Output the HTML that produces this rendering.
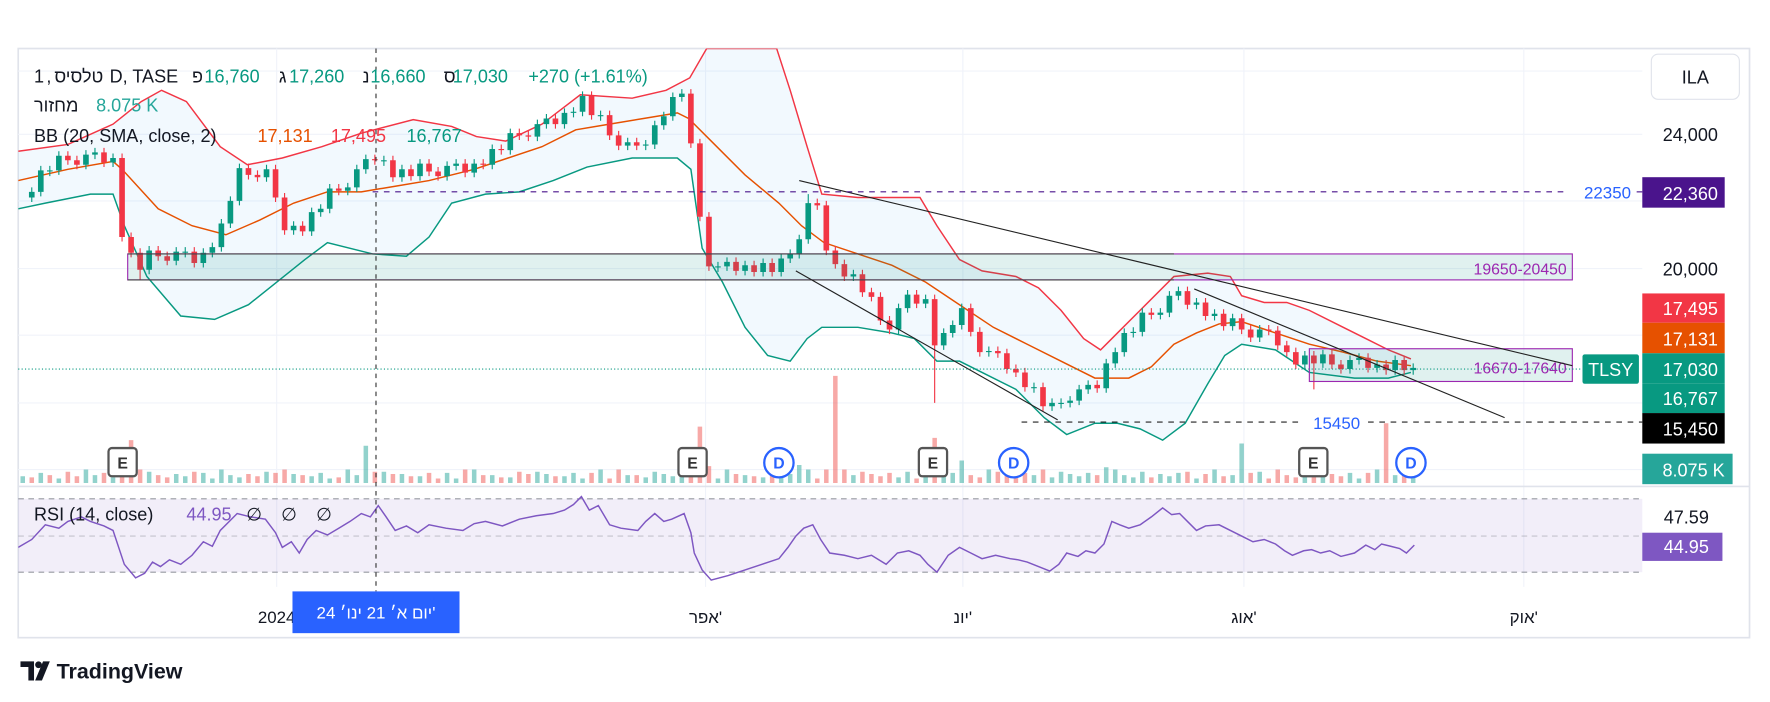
<!DOCTYPE html>
<html><head><meta charset="utf-8">
<style>
html,body{margin:0;padding:0;background:#fff;}
svg{display:block;}
text{font-family:"Liberation Sans","DejaVu Sans",sans-serif;}
</style></head>
<body>
<svg width="1770" height="702" viewBox="0 0 1568 622" xmlns="http://www.w3.org/2000/svg">
<defs>
<clipPath id="cm"><rect x="16" y="43" width="1439" height="388"/></clipPath>
<clipPath id="cr"><rect x="16" y="432" width="1439" height="90"/></clipPath>
</defs>
<rect x="0" y="0" width="1568" height="622" fill="#fff"/>
<rect x="16" y="43" width="1534" height="522" fill="none" stroke="#e0e3eb" stroke-width="1.5"/>
<g stroke="#f0f3fa" stroke-width="1">
<line x1="16" y1="119" x2="1455" y2="119"/><line x1="16" y1="178" x2="1455" y2="178"/>
<line x1="16" y1="238" x2="1455" y2="238"/><line x1="16" y1="297" x2="1455" y2="297"/>
<line x1="16" y1="357" x2="1455" y2="357"/><line x1="16" y1="416" x2="1455" y2="416"/>
<line x1="16" y1="63" x2="1455" y2="63"/>
<line x1="245" y1="43" x2="245" y2="520"/><line x1="625" y1="43" x2="625" y2="520"/>
<line x1="853" y1="43" x2="853" y2="520"/><line x1="1102" y1="43" x2="1102" y2="520"/>
<line x1="1350" y1="43" x2="1350" y2="520"/>
</g>
<line x1="16" y1="431" x2="1550" y2="431" stroke="#e0e3eb" stroke-width="1.5"/>
<rect x="16" y="442" width="1439" height="65" fill="#7e57c2" fill-opacity="0.1"/>
<g stroke="#9598a1" stroke-dasharray="5,4" stroke-width="1">
<line x1="16" y1="442" x2="1455" y2="442"/><line x1="16" y1="475" x2="1455" y2="475" stroke-opacity="0.5"/><line x1="16" y1="507" x2="1455" y2="507"/>
</g>

<g clip-path="url(#cm)">
<polygon fill="#2196f3" fill-opacity="0.06" points="16,134 60,128 100,110 125,90 143,80 165,90 195,130 219,146 250,140 285,130 320,118 366,106 400,112 422,121 448,125 480,110 514,84 560,87 590,80 611,69 626,43 688,43 700,80 715,130 728,172 760,175 790,175 815,175 830,200 850,230 870,240 900,245 920,255 940,275 960,300 975,310 990,295 1010,275 1040,245 1070,242 1090,245 1100,262 1120,268 1140,268 1160,275 1190,290 1210,300 1230,310 1250,318 1250,330 1230,335 1200,335 1160,330 1130,310 1100,305 1085,315 1070,340 1050,375 1030,390 1010,380 990,375 970,375 945,385 925,370 900,345 870,330 850,320 830,320 810,300 790,295 760,290 728,290 715,300 700,320 680,315 660,290 640,250 622,220 612,150 600,140 560,140 520,148 490,160 460,170 430,172 400,180 380,210 360,227 330,225 290,215 270,230 245,250 220,270 190,283 160,280 130,245 110,200 100,172 80,172 40,180 16,185"/>
<path fill="none" stroke="#26a69a" stroke-opacity="0.5" stroke-width="4" d="M20 428v-6M36 428v-9M52 428v-4M76 428v-12M84 428v-7M100 428v-5M132 428v-10M156 428v-8M164 428v-6M180 428v-9M188 428v-4M196 428v-12M204 428v-7M212 428v-5M236 428v-10M260 428v-8M276 428v-6M284 428v-9M292 428v-4M308 428v-12M316 428v-7M324 428v-33M340 428v-10M356 428v-8M372 428v-6M396 428v-9M404 428v-4M420 428v-12M436 428v-7M452 428v-5M476 428v-10M484 428v-8M500 428v-6M508 428v-9M516 428v-4M532 428v-12M556 428v-7M572 428v-5M580 428v-10M588 428v-8M596 428v-6M604 428v-9M636 428v-4M644 428v-12M660 428v-7M676 428v-5M692 428v-10M700 428v-8M708 428v-16M716 428v-12M756 428v-7M796 428v-5M804 428v-10M820 428v-8M836 428v-6M844 428v-9M852 428v-20M876 428v-12M916 428v-7M932 428v-5M940 428v-10M948 428v-8M956 428v-6M964 428v-9M980 428v-14M988 428v-12M996 428v-7M1004 428v-5M1012 428v-10M1028 428v-8M1036 428v-6M1044 428v-9M1060 428v-4M1076 428v-12M1092 428v-7M1100 428v-35M1116 428v-10M1156 428v-8M1172 428v-6M1196 428v-9M1204 428v-4M1220 428v-12M1236 428v-7M1252 428v-10"/>
<path fill="none" stroke="#ef5350" stroke-opacity="0.5" stroke-width="4" d="M28 428v-5M44 428v-7M60 428v-10M68 428v-6M92 428v-9M108 428v-16M116 428v-38M124 428v-12M140 428v-7M148 428v-5M172 428v-10M220 428v-8M228 428v-6M244 428v-9M252 428v-12M268 428v-7M300 428v-5M332 428v-10M348 428v-8M364 428v-6M380 428v-9M388 428v-4M412 428v-12M428 428v-7M444 428v-5M460 428v-10M468 428v-8M492 428v-6M524 428v-9M540 428v-4M548 428v-12M564 428v-7M612 428v-20M620 428v-50M628 428v-15M652 428v-8M668 428v-6M684 428v-9M724 428v-4M732 428v-12M740 428v-95M748 428v-12M764 428v-10M772 428v-8M780 428v-6M788 428v-9M812 428v-4M828 428v-40M860 428v-7M868 428v-5M884 428v-10M892 428v-8M900 428v-6M908 428v-9M924 428v-12M972 428v-7M1020 428v-5M1052 428v-10M1068 428v-8M1084 428v-6M1108 428v-9M1124 428v-4M1132 428v-12M1140 428v-7M1148 428v-5M1164 428v-10M1180 428v-8M1188 428v-6M1212 428v-9M1228 428v-53M1244 428v-10"/>
<polyline fill="none" stroke="#f23645" stroke-width="1.3" points="16,134 60,128 100,110 125,90 143,80 165,90 195,130 219,146 250,140 285,130 320,118 366,106 400,112 422,121 448,125 480,110 514,84 560,87 590,80 611,69 626,43 688,43 700,80 715,130 728,172 760,175 790,175 815,175 830,200 850,230 870,240 900,245 920,255 940,275 960,300 975,310 990,295 1010,275 1040,245 1070,242 1090,245 1100,262 1120,268 1140,268 1160,275 1190,290 1210,300 1230,310 1250,318"/>
<polyline fill="none" stroke="#089981" stroke-width="1.3" points="16,185 40,180 80,172 100,172 110,200 130,245 160,280 190,283 220,270 245,250 270,230 290,215 330,225 360,227 380,210 400,180 430,172 460,170 490,160 520,148 560,140 600,140 612,150 622,220 640,250 660,290 680,315 700,320 715,300 728,290 760,290 790,295 810,300 830,320 850,320 870,330 900,345 925,370 945,385 970,375 990,375 1010,380 1030,390 1050,375 1070,340 1085,315 1100,305 1130,310 1160,330 1200,335 1230,335 1250,330"/>
<polyline fill="none" stroke="#e65100" stroke-width="1.3" points="16,160 60,150 100,143 108,150 140,185 170,200 200,208 230,195 260,180 290,170 320,170 350,165 380,160 420,150 450,140 480,130 510,115 540,110 570,105 600,100 610,105 630,125 660,155 690,180 710,200 730,215 760,225 790,235 820,250 850,270 880,290 910,305 940,320 970,335 1000,335 1020,325 1040,305 1060,295 1080,287 1100,285 1130,295 1160,305 1190,312 1220,320 1250,324"/>
<path fill="none" stroke="#089981" stroke-width="1" d="M28 166V179M36 147V174M44 147V156M52 134V155M76 133V150M84 131V141M100 136V148M132 218V243M156 219V235M164 219V228M180 220V237M188 215V228M196 194V223M204 174V202M212 145V182M236 146V161M260 196V208M276 184V209M284 181V192M292 163V189M308 162V173M316 146V170M324 137V154M340 138V147M356 146V161M372 141V160M396 143V160M404 141V151M420 141V157M436 128V150M452 114V137M476 106V125M484 101V114M500 96V114M508 95V104M516 81V103M532 98V107M556 122V133M572 124V133M580 107V132M588 99V115M596 82V107M604 79V90M636 232V241M644 228V240M660 231V244M676 229V245M692 225V245M700 221V233M708 208V229M716 172V216M756 239V249M796 269V296M804 257V277M820 261V273M836 291V310M844 284V299M852 269V292M876 307V316M916 339V348M932 353V364M940 353V362M948 351V361M956 341V359M964 337V349M980 318V348M988 308V326M996 291V316M1004 290V299M1012 273V298M1028 273V283M1036 258V281M1044 254V266M1060 264V274M1076 274V284M1092 278V293M1116 288V303M1156 311V327M1172 310V326M1196 315V331M1204 313V323M1220 319V330M1236 315V332M1252 322V332"/>
<path fill="none" stroke="#089981" stroke-width="5" d="M28 170V175M36 151V170M44 151V152M52 138V151M76 137V146M84 135V137M100 140V144M132 222V239M156 223V231M164 223V224M180 224V233M188 219V224M196 198V219M204 178V198M212 149V178M236 150V157M260 200V204M276 188V205M284 185V188M292 167V185M308 166V169M316 150V166M324 141V150M340 142V143M356 150V157M372 145V156M396 147V156M404 145V147M420 145V153M436 132V146M452 118V133M476 110V121M484 105V110M500 100V110M508 99V100M516 85V99M532 102V103M556 126V129M572 128V129M580 111V128M588 103V111M596 86V103M604 83V86M636 236V237M644 232V236M660 235V240M676 233V241M692 229V241M700 225V229M708 212V225M716 180V212M756 243V245M796 273V292M804 261V273M820 265V269M836 295V306M844 288V295M852 273V288M876 311V312M916 343V344M932 357V360M940 357V358M948 355V357M956 345V355M964 341V345M980 322V344M988 312V322M996 295V312M1004 294V295M1012 277V294M1028 277V279M1036 262V277M1044 258V262M1060 268V270M1076 278V280M1092 282V289M1116 292V299M1156 315V323M1172 314V322M1196 319V327M1204 317V319M1220 323V326M1236 319V328M1252 326V328"/>
<path fill="none" stroke="#f23645" stroke-width="1" d="M60 134V146M68 138V150M92 131V148M108 136V214M116 206V228M124 220V248M140 218V231M148 223V235M172 219V237M220 145V159M228 151V161M244 146V179M252 171V208M268 196V209M300 163V173M332 137V146M348 138V161M364 146V160M380 141V156M388 148V160M412 141V157M428 141V150M444 128V137M460 114V124M468 116V125M492 101V114M524 81V106M540 98V124M548 116V133M564 122V133M612 79V131M620 123V196M628 188V240M652 228V244M668 231V245M684 229V245M724 176V186M732 178V226M740 218V238M748 230V249M764 239V263M772 255V267M780 259V288M788 280V296M812 257V273M828 261V357M860 269V298M868 290V316M884 307V317M892 309V331M900 323V334M908 326V347M924 339V364M972 337V348M1020 273V283M1052 254V274M1068 264V284M1084 274V293M1100 278V296M1108 288V303M1124 288V297M1132 289V310M1140 302V316M1148 308V327M1164 311V345M1180 310V327M1188 319V331M1212 313V330M1228 319V332M1244 315V332"/>
<path fill="none" stroke="#f23645" stroke-width="5" d="M60 138V142M68 142V146M92 135V144M108 140V210M116 210V224M124 224V239M140 222V227M148 227V231M172 223V233M220 149V155M228 155V157M244 150V175M252 175V204M268 200V205M300 167V169M332 141V142M348 142V157M364 150V156M380 145V152M388 152V156M412 145V153M428 145V146M444 132V133M460 118V120M468 120V121M492 105V110M524 85V102M540 102V120M548 120V129M564 126V129M612 83V127M620 127V192M628 192V236M652 232V240M668 235V241M684 233V241M724 180V182M732 182V222M740 222V234M748 234V245M764 243V259M772 259V263M780 263V284M788 284V292M812 261V269M828 265V306M860 273V294M868 294V312M884 311V313M892 313V327M900 327V330M908 330V343M924 343V360M972 341V344M1020 277V279M1052 258V270M1068 268V280M1084 278V289M1100 282V292M1108 292V299M1124 292V293M1132 293V306M1140 306V312M1148 312V323M1164 315V322M1180 314V323M1188 323V327M1212 317V326M1228 323V328M1244 319V328"/>
</g>
<g clip-path="url(#cr)">
<polyline fill="none" stroke="#7e57c2" stroke-width="1.3" points="16,485 28,478 40,465 52,468 60,462 72,458 80,462 92,466 100,470 110,500 120,512 128,508 135,498 142,502 150,496 160,500 170,492 180,480 188,484 195,470 210,455 222,458 235,460 244,472 250,485 258,480 265,490 272,478 280,470 290,474 300,468 310,462 320,455 328,458 335,448 342,458 350,470 360,466 370,472 380,465 395,468 410,470 420,464 430,462 445,466 460,460 475,457 490,455 500,452 508,447 515,440 522,452 530,448 540,465 550,468 565,470 572,462 580,455 588,462 595,460 606,455 612,472 615,490 622,505 630,514 645,510 660,505 675,500 690,495 698,485 705,475 712,468 720,465 727,478 735,490 748,492 760,495 772,492 785,500 795,490 805,488 815,492 822,500 830,507 840,492 850,485 860,490 870,495 882,492 895,495 902,496 910,498 920,502 930,506 938,500 945,490 955,493 962,488 970,490 978,482 985,462 992,465 1000,468 1010,465 1020,458 1030,450 1038,456 1045,455 1052,462 1060,470 1068,466 1080,465 1090,470 1100,475 1110,480 1120,478 1130,482 1138,488 1145,492 1155,488 1162,487 1170,490 1178,488 1188,493 1200,490 1210,483 1218,487 1224,482 1232,484 1240,486 1246,490 1253,483"/>
</g>

<rect x="113" y="225" width="1280" height="23" fill="#00897b" fill-opacity="0.12" stroke="#9c27b0" stroke-width="1"/>
<line x1="113" y1="225" x2="1040" y2="225" stroke="#444" stroke-width="1"/>
<line x1="113" y1="248" x2="1040" y2="248" stroke="#444" stroke-width="1"/>
<text x="1388" y="243" font-size="14" fill="#9c27b0" text-anchor="end">19650-20450</text>
<rect x="1160" y="309" width="233" height="29" fill="#00897b" fill-opacity="0.12" stroke="#9c27b0" stroke-width="1"/>
<text x="1388" y="331" font-size="14" fill="#9c27b0" text-anchor="end">16670-17640</text>
<line x1="708" y1="160" x2="1393" y2="324" stroke="#222" stroke-width="1"/>
<line x1="1058" y1="256" x2="1333" y2="370" stroke="#222" stroke-width="1"/>
<line x1="705" y1="240" x2="937" y2="372" stroke="#222" stroke-width="1"/>
<line x1="330" y1="170" x2="1387" y2="170" stroke="#4a148c" stroke-dasharray="5,5" stroke-width="1"/>
<line x1="1450" y1="170" x2="1455" y2="170" stroke="#4a148c" stroke-width="1"/>
<text x="1445" y="176" font-size="15" fill="#2962ff" text-anchor="end">22350</text>
<line x1="905" y1="374" x2="1150" y2="374" stroke="#222" stroke-dasharray="5,5" stroke-width="1"/>
<line x1="1212" y1="374" x2="1455" y2="374" stroke="#222" stroke-dasharray="5,5" stroke-width="1"/>
<text x="1205" y="380" font-size="15" fill="#2962ff" text-anchor="end">15450</text>
<line x1="16" y1="327" x2="1400" y2="327" stroke="#089981" stroke-dasharray="1,2" stroke-width="1"/>
<line x1="333" y1="43" x2="333" y2="524" stroke="#333" stroke-dasharray="4,4" stroke-width="1"/>
<g font-size="14" font-weight="bold" text-anchor="middle">
<rect x="96" y="397" width="25" height="25" rx="3" fill="#fff" stroke="#555" stroke-width="2"/><text x="108.5" y="415" fill="#333">E</text>
<rect x="601" y="397" width="25" height="25" rx="3" fill="#fff" stroke="#555" stroke-width="2"/><text x="613.5" y="415" fill="#333">E</text>
<rect x="814" y="397" width="25" height="25" rx="3" fill="#fff" stroke="#555" stroke-width="2"/><text x="826.5" y="415" fill="#333">E</text>
<rect x="1151" y="397" width="25" height="25" rx="3" fill="#fff" stroke="#555" stroke-width="2"/><text x="1163.5" y="415" fill="#333">E</text>
<circle cx="690" cy="410" r="13" fill="#fff" stroke="#2962ff" stroke-width="2"/><text x="690" y="415" fill="#2962ff">D</text>
<circle cx="898" cy="410" r="13" fill="#fff" stroke="#2962ff" stroke-width="2"/><text x="898" y="415" fill="#2962ff">D</text>
<circle cx="1250" cy="410" r="13" fill="#fff" stroke="#2962ff" stroke-width="2"/><text x="1250" y="415" fill="#2962ff">D</text>
</g>
<g font-size="16">
<text x="30" y="73" fill="#131722">1</text>
<text x="41" y="73" fill="#131722">,</text>
<text x="48" y="73" fill="#131722">טלסיס</text>
<text x="97" y="73" fill="#131722">D, TASE</text>
<text x="170" y="73" fill="#131722">פ</text><text x="181" y="73" fill="#089981">16,760</text>
<text x="247" y="73" fill="#131722">ג</text><text x="256" y="73" fill="#089981">17,260</text>
<text x="321" y="73" fill="#131722">נ</text><text x="328" y="73" fill="#089981">16,660</text>
<text x="393" y="73" fill="#131722">ס</text><text x="401" y="73" fill="#089981">17,030</text>
<text x="468" y="73" fill="#089981">+270 (+1.61%)</text>
<text x="30" y="99" fill="#131722">מחזור</text><text x="85" y="99" fill="#26a69a">8.075 K</text>
<text x="30" y="126" fill="#131722">BB (20, SMA, close, 2)</text>
<text x="228" y="126" fill="#e65100">17,131</text>
<text x="293" y="126" fill="#f23645">17,495</text>
<text x="360" y="126" fill="#089981">16,767</text>
<text x="30" y="461" fill="#131722">RSI (14, close)</text>
<text x="165" y="461" fill="#7e57c2">44.95</text>
<text x="218" y="461" fill="#131722">∅</text><text x="249" y="461" fill="#131722">∅</text><text x="280" y="461" fill="#131722">∅</text>
</g>
<rect x="1463" y="48" width="78" height="40" rx="6" fill="#fff" stroke="#e0e3eb"/>
<text x="1502" y="74" font-size="16" fill="#131722" text-anchor="middle">ILA</text>
<g font-size="16" text-anchor="end">
<text x="1522" y="125" fill="#131722">24,000</text>
<text x="1522" y="244" fill="#131722">20,000</text>
<rect x="1455" y="157" width="73" height="27" fill="#4a148c"/><text x="1522" y="177" fill="#fff">22,360</text>
<rect x="1455" y="260" width="73" height="26" fill="#f23645"/><text x="1522" y="279" fill="#fff">17,495</text>
<rect x="1455" y="286" width="73" height="27" fill="#e65100"/><text x="1522" y="306" fill="#fff">17,131</text>
<rect x="1455" y="313" width="73" height="27" fill="#089981"/><text x="1522" y="333" fill="#fff">17,030</text>
<rect x="1455" y="340" width="73" height="26" fill="#089981"/><text x="1522" y="359" fill="#fff">16,767</text>
<rect x="1455" y="366" width="73" height="27" fill="#000"/><text x="1522" y="386" fill="#fff">15,450</text>
<rect x="1455" y="402" width="80" height="27" fill="#26a69a"/><text x="1528" y="422" fill="#fff">8.075 K</text>
<text x="1514" y="464" fill="#131722">47.59</text>
<rect x="1455" y="472" width="71" height="25" fill="#7e57c2"/><text x="1514" y="490" fill="#fff">44.95</text>
</g>
<rect x="1402" y="314" width="50" height="26" rx="2" fill="#089981"/>
<text x="1427" y="333" font-size="16" fill="#fff" text-anchor="middle">TLSY</text>
<g font-size="15" fill="#131722" text-anchor="middle">
<text x="245" y="552">2024</text>
<text x="625" y="552">אפר'</text>
<text x="853" y="552">יונ'</text>
<text x="1102" y="552">אוג'</text>
<text x="1350" y="552">אוק'</text>
</g>
<rect x="259" y="524" width="148" height="37" fill="#2962ff"/>
<text x="333" y="548" font-size="15" fill="#fff" text-anchor="middle">יום א׳ 21 ינו׳ 24'</text>
<g fill="#131722">
<path d="M18 586 h12 v17 h-5 v-12 h-7 z"/>
<circle cx="34" cy="589" r="3"/>
<path d="M38 586 h6 l-7 17 h-6 z"/>
</g>
<text x="50" y="601" font-size="19" fill="#131722" font-weight="bold">TradingView</text>
</svg>
</body></html>
